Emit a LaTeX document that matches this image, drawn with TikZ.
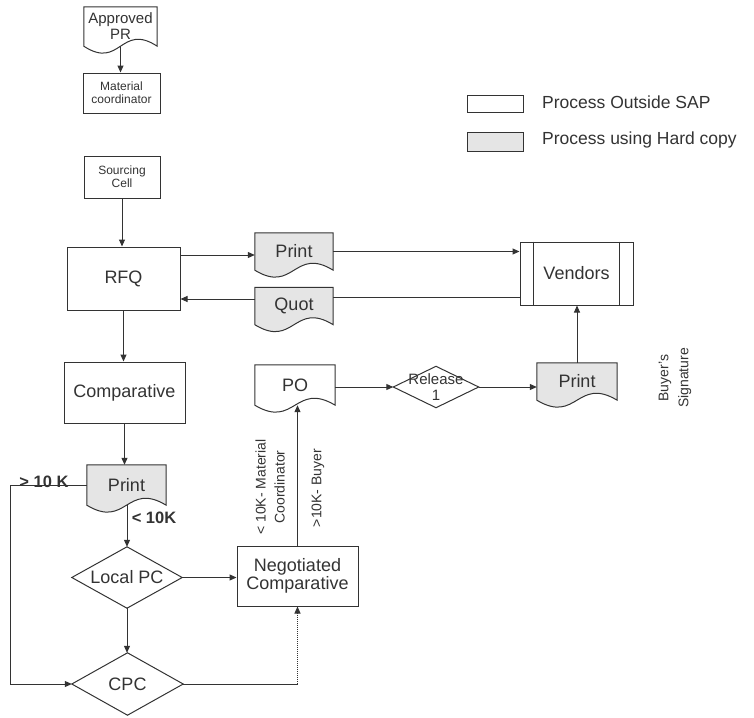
\documentclass[tikz,border=0pt]{standalone}
\usepackage{fontspec}
\setmainfont{Liberation Sans}
\usetikzlibrary{arrows.meta,calc,backgrounds}
\definecolor{ink}{gray}{0.2}
\definecolor{hard}{gray}{0.9}
\tikzset{
  ln/.style={draw=ink, line width=1pt},
  arr/.style={ln, -{Triangle[length=7pt,width=6pt]}},
  procbox/.style={ln, inner sep=0pt, align=center, text=ink},
  docnode/.style={inner sep=0pt, align=center, text=ink},
  decnode/.style={inner sep=0pt, align=center, text=ink},
  big/.style={font=\fontsize{18}{20}\selectfont},
  small/.style={font=\fontsize{12}{13}\selectfont},
  lbl/.style={text=ink, inner sep=0pt, font=\bfseries\fontsize{16.5}{19}\selectfont},
  vlbl/.style={text=ink, inner sep=0pt, rotate=90, align=center, font=\fontsize{14}{19}\selectfont},
  legtxt/.style={text=ink, inner sep=0pt, anchor=west, font=\fontsize{17.5}{20}\selectfont}
}
\newcommand\docoutline[2]{%
  \begin{scope}[on background layer]
    \draw[ln, fill=#2] (#1.south west) -- (#1.north west) -- (#1.north east) -- (#1.south east)
      .. controls ($(#1.south)+(0,-24)$) and ($(#1.south)+(0,24)$) .. (#1.south west) -- cycle;
  \end{scope}}
\newcommand\diaoutline[1]{%
  \draw[ln] (#1.north) -- (#1.east) -- (#1.south) -- (#1.west) -- cycle;}
\begin{document}
\begin{tikzpicture}[x=1pt,y=-1pt]
\useasboundingbox (0,0) rectangle (754,717);

% nodes
\node[docnode, minimum width=73pt, minimum height=39pt, font=\fontsize{15}{16}\selectfont] (apr) at (120.5,26.5) {Approved\\PR};
\node[procbox, small, minimum width=77pt, minimum height=40pt] (mc) at (121.5,93) {Material\\coordinator};
\node[procbox, small, minimum width=76pt, minimum height=42pt] (sc) at (122,177) {Sourcing\\Cell};
\node[procbox, big, minimum width=113pt, minimum height=63pt] (rfq) at (123.5,278.5) {RFQ};
\node[docnode, big, minimum width=78pt, minimum height=37pt] (pr1) at (294,251.5) {Print};
\node[docnode, big, minimum width=78pt, minimum height=37pt] (quot) at (294,306) {Quot};
\node[procbox, big, minimum width=113pt, minimum height=63pt] (ven) at (576.5,273.5) {Vendors};
\node[procbox, big, minimum width=121pt, minimum height=61pt] (comp) at (124.5,392.5) {Comparative};
\node[docnode, big, minimum width=80pt, minimum height=40pt] (po) at (295,385) {PO};
\node[decnode, font=\fontsize{15}{16}\selectfont, minimum width=85pt, minimum height=41pt] (rel) at (436,387) {Release\\1};
\node[docnode, big, minimum width=80pt, minimum height=37pt] (pr2) at (577,381.5) {Print};
\node[docnode, big, minimum width=79pt, minimum height=40pt] (pr3) at (126.5,485) {Print};
\node[decnode, big, minimum width=110pt, minimum height=61pt] (lpc) at (127,577.5) {Local PC};
\node[procbox, font=\fontsize{18}{18}\selectfont, minimum width=121pt, minimum height=60pt] (nc) at (297.5,576) {Negotiated\\Comparative};
\node[decnode, big, minimum width=111pt, minimum height=62pt] (cpc) at (127.5,684) {CPC};

% shapes
\docoutline{apr}{white}
\docoutline{pr1}{hard}
\docoutline{quot}{hard}
\docoutline{po}{white}
\docoutline{pr2}{hard}
\docoutline{pr3}{hard}
\diaoutline{rel}
\diaoutline{lpc}
\diaoutline{cpc}
\draw[ln] ($(ven.north west)+(14,0)$) -- ($(ven.south west)+(14,0)$);
\draw[ln] ($(ven.north east)+(-14,0)$) -- ($(ven.south east)+(-14,0)$);

% legend
\node[procbox, minimum width=56pt, minimum height=17pt] (lg1) at (495,103.5) {};
\node[procbox, fill=hard, minimum width=56pt, minimum height=19pt] (lg2) at (495,142) {};
\node[legtxt] (lt1) at (542,102) {Process Outside SAP};
\node[legtxt] (lt2) at (542,140) {Process using Hard copy};

% labels
\node[lbl] (gt) at (44,482) {> 10 K};
\node[lbl] (lt) at (154,518) {< 10K};
\node[vlbl] (mcl) at (270,487) {< 10K- Material\\Coordinator};
\node[vlbl] (byl) at (318,488) {>10K- Buyer};
\node[vlbl, font=\fontsize{14}{20}\selectfont] (bs) at (675,378) {Buyer's\\Signature};

% connectors
\draw[arr] (apr.south) -- (apr.south |- mc.north);
\draw[arr] (sc.south) -- (sc.south |- rfq.north);
\coordinate (r1) at ($(pr1.west)+(0,3.5)$);
\draw[arr] (r1 -| rfq.east) -- (r1);
\draw[arr] (pr1.east) -- (pr1.east -| ven.west);
\coordinate (q1) at ($(quot.east)+(0,-9)$);
\draw[ln] (q1 -| ven.west) -- (q1);
\coordinate (q2) at ($(quot.west)+(0,-7)$);
\draw[arr] (q2) -- (q2 -| rfq.east);
\draw[arr] (rfq.south) -- (rfq.south |- comp.north);
\coordinate (p3) at ($(pr3.north)+(-2,0)$);
\draw[arr] (p3 |- comp.south) -- (p3);
\draw[arr] (lpc.north |- pr3.south) -- (lpc.north);
\draw[arr] (pr3.west) -- ++(-76,0) |- (cpc.west);
\draw[arr] (lpc.east) -- (lpc.east -| nc.west);
\draw[arr] (lpc.south) -- (lpc.south |- cpc.north);
\coordinate (c1) at (cpc.east -| nc.south);
\draw[ln] (cpc.east) -- (c1);
\draw[arr, densely dotted] (c1) -- (nc.south);
\draw[arr] (nc.north) -- (nc.north |- po.south);
\draw[arr] (po.east |- rel.west) -- (rel.west);
\draw[arr] (rel.east) -- (rel.east -| pr2.west);
\draw[arr] (pr2.north) -- (pr2.north |- ven.south);
\end{tikzpicture}
\end{document}
